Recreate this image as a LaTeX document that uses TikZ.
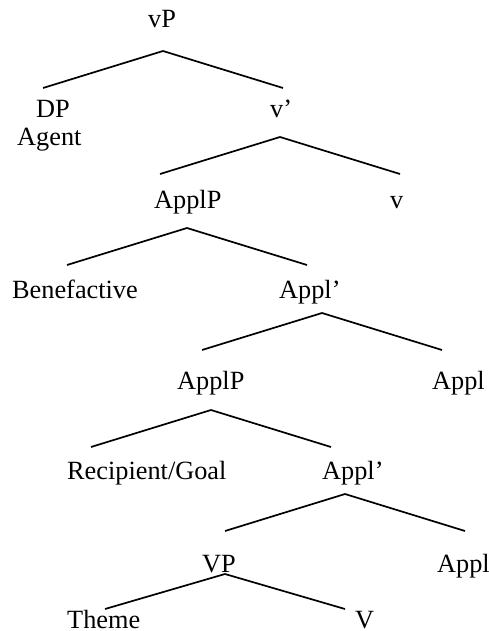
\documentclass[tikz,border=0pt]{standalone}
\usepackage{fontspec}
\setmainfont{Liberation Serif}
\usetikzlibrary{positioning}

\begin{document}
\begin{tikzpicture}[x=1pt, y=-1pt,
    lbl/.style={anchor=base west, inner sep=0pt, font=\fontsize{26.3}{30}\selectfont},
    branch/.style={line width=1.7pt}]
    \useasboundingbox (0,0) rectangle (489,631);

    % labels, placed at their baselines
    \node[lbl] (vP)     at (148,28)  {vP};
    \node[lbl] (DP)     at (36,118)  {DP};
    \node[lbl] (agent)  at (17,146)  {Agent};
    \node[lbl] (vbar)   at (270,118) {v’};
    \node[lbl] (applPa) at (154,208) {ApplP};
    \node[lbl] (v)      at (390,208) {v};
    \node[lbl] (benef)  at (12,298)  {Benefactive};
    \node[lbl] (applba) at (279,298) {Appl’};
    \node[lbl] (applPb) at (177,389) {ApplP};
    \node[lbl] (appla)  at (432,389) {Appl};
    \node[lbl] (recip)  at (67,479)  {Recipient/Goal};
    \node[lbl] (applbb) at (322,479) {Appl’};
    \node[lbl] (VP)     at (202,572) {VP};
    \node[lbl] (applb)  at (437,572) {Appl};
    \node[lbl] (theme)  at (67,628)  {Theme};
    \node[lbl] (V)      at (355,628) {V};

    % one roof under each branching label
    \foreach \p/\dx/\dy/\h in {vP/15/23/37, vbar/10/19/37, applPa/33/20/37,
        applba/43/15/37, applPb/34/21/37, applbb/23/15/37, VP/23/2/35}
      \draw[branch, shift={(\p.base west)}]
        (\dx-120,\dy+\h) -- (\dx,\dy) -- (\dx+120,\dy+\h);
\end{tikzpicture}
\end{document}
